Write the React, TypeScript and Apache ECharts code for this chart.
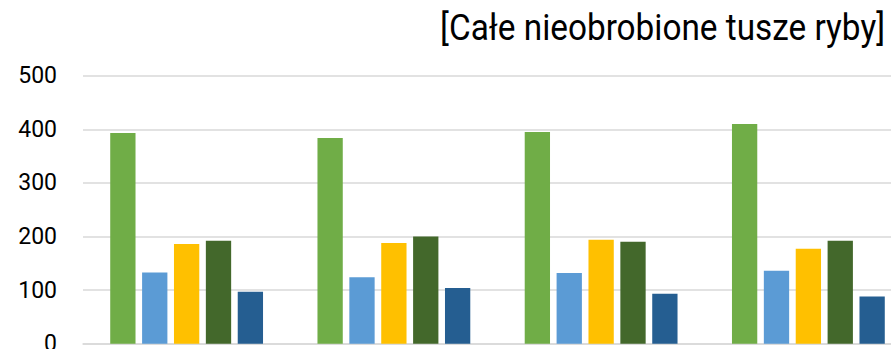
import React, { useEffect, useRef } from "react";
import * as echarts from "echarts";

const categories = ["A", "B", "C", "D"];
const seriesNames = ["S1", "S2", "S3", "S4", "S5"];
const s1 = [393, 384, 395, 410];
const s2 = [133, 124, 132, 136];
const s3 = [186, 188, 194, 177];
const s4 = [192, 200, 190, 192];
const s5 = [97, 104, 93, 88];
const colors = ["#70AD47", "#5B9BD5", "#FFC000", "#43682B", "#255E91"];
const titleText = "[Całe nieobrobione tusze ryby]";

const FONT = "Roboto, 'Liberation Sans', sans-serif";

export default function App() {
  const ref = useRef<HTMLDivElement>(null);
  useEffect(() => {
    document.body.style.margin = "0";
    const chart = echarts.init(ref.current!, null, { renderer: "svg" });
    const data = [s1, s2, s3, s4, s5];

    const titleSize = 36;
    const titleLeft = 440;
    const titleRight = 885;
    let scaleX = 0.8;
    try {
      const cv = document.createElement("canvas");
      const ctx = cv.getContext("2d")!;
      ctx.font = `${titleSize}px Roboto`;
      const w = ctx.measureText(titleText).width;
      if (w > 0) scaleX = (titleRight - titleLeft) / w;
    } catch (e) {}

    chart.setOption({
      animation: false,
      backgroundColor: "#ffffff",
      graphic: [
        {
          type: "text",
          x: titleRight,
          y: 28,
          scaleX: scaleX,
          style: {
            text: titleText,
            fontFamily: "Roboto",
            fontSize: titleSize,
            fill: "#000000",
            textAlign: "right",
            textVerticalAlign: "middle",
          },
        },
      ],
      grid: { left: 83, top: 75.7, width: 829, height: 268, outerBoundsMode: "none", containLabel: false },
      xAxis: {
        type: "category",
        data: categories,
        axisLine: { show: true, lineStyle: { color: "#D9D9D9", width: 1.5 } },
        axisTick: { show: false },
        axisLabel: { show: false },
      },
      yAxis: {
        type: "value",
        min: 0,
        max: 500,
        interval: 100,
        axisLine: { show: false },
        axisTick: { show: false },
        splitLine: { lineStyle: { color: "#D9D9D9", width: 1.5 } },
        axisLabel: { margin: 26, fontFamily: FONT, fontSize: 23, color: "#000000" },
      },
      series: data.map((d, i) => ({
        name: seriesNames[i],
        type: "bar",
        data: d,
        barWidth: 25.3,
        barGap: "26%",
        itemStyle: { color: colors[i] },
      })),
    });
    return () => chart.dispose();
  }, []);
  return <div ref={ref} style={{ position: "absolute", left: 0, top: 0, width: 891, height: 349 }} />;
}
